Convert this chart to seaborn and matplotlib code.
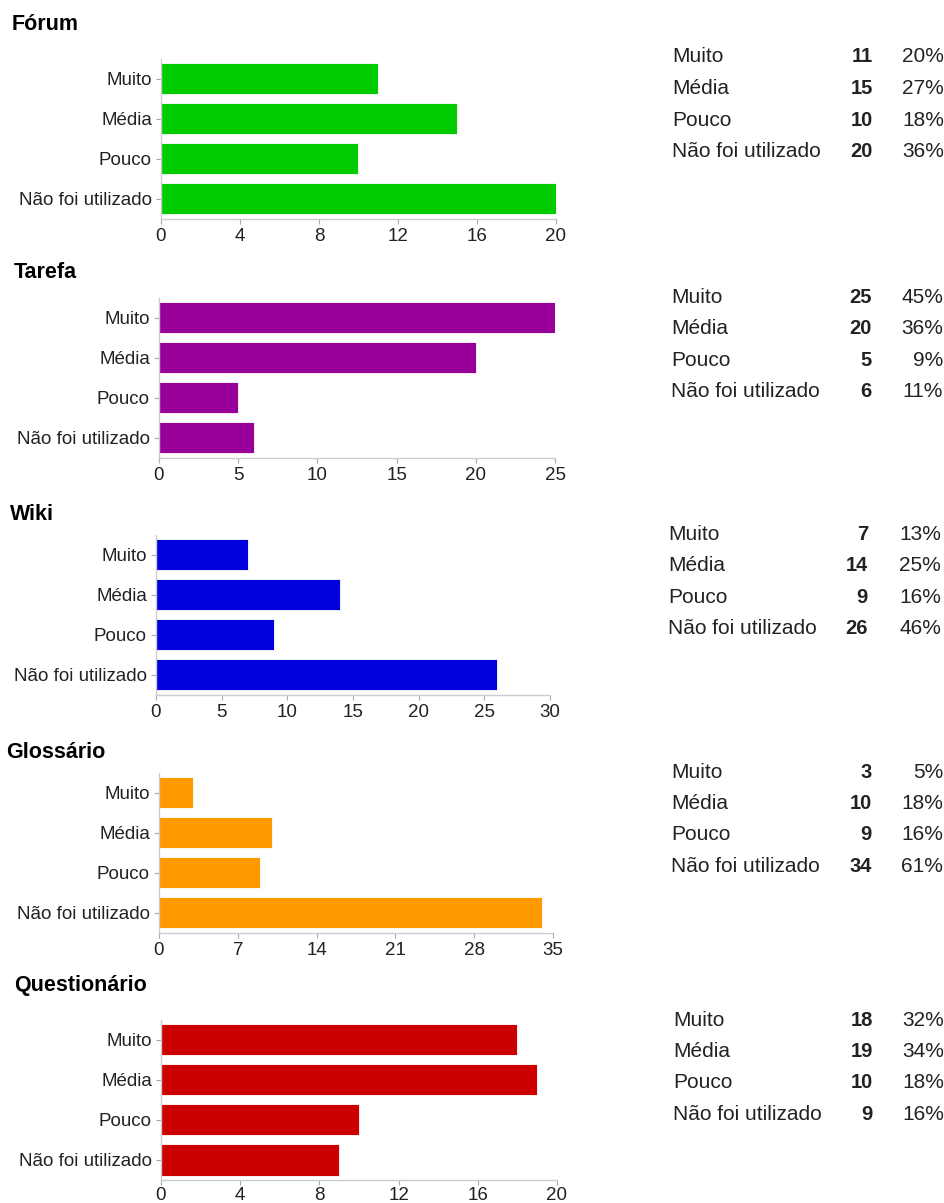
import matplotlib
matplotlib.use("Agg")
import matplotlib.pyplot as plt
import seaborn as sns
import numpy as np

sns.set_theme(style="white")
plt.rcParams['font.family'] = ['Liberation Sans', 'DejaVu Sans']

categories = ["Muito", "Média", "Pouco", "Não foi utilizado"]

titles = ["Fórum", "Tarefa", "Wiki", "Glossário", "Questionário"]
forum = [11, 15, 10, 20]
tarefa = [25, 20, 5, 6]
wiki = [7, 14, 9, 26]
glossario = [3, 10, 9, 34]
questionario = [18, 19, 10, 9]

forum_pct = ["20%", "27%", "18%", "36%"]
tarefa_pct = ["45%", "36%", "9%", "11%"]
wiki_pct = ["13%", "25%", "16%", "46%"]
glossario_pct = ["5%", "18%", "16%", "61%"]
questionario_pct = ["32%", "34%", "18%", "16%"]

x_ticks = [
    [0, 4, 8, 12, 16, 20],
    [0, 5, 10, 15, 20, 25],
    [0, 5, 10, 15, 20, 25, 30],
    [0, 7, 14, 21, 28, 35],
    [0, 4, 8, 12, 16, 20],
]

colors = ["#00cc00", "#990099", "#0000dd", "#ff9900", "#cc0000"]
series = [forum, tarefa, wiki, glossario, questionario]
pcts = [forum_pct, tarefa_pct, wiki_pct, glossario_pct, questionario_pct]

W, H = 945, 1203
fig = plt.figure(figsize=(W / 100, H / 100), dpi=100)

# layout in pixels
axes_px = [  # left, right, top, bottom
    (161, 556, 58.5, 218.5),
    (159, 555, 297.5, 457.5),
    (156, 550, 534.5, 694.5),
    (159, 553, 772.5, 932.5),
    (161, 557, 1019.5, 1180),
]
tick_pad = [3.5, 3.5, 3.5, 3.5, 1.5]
title_px = [(12, 24), (14, 272), (10, 515), (6, 752), (14, 985)]
table_px = [  # label x, value right x, pct right x, first row y
    (672, 873, 944, 57),
    (671, 872, 943, 297),
    (668, 868, 941, 534),
    (671, 872, 943, 772),
    (673, 873, 944, 1020),
]
row_step = 31.5

def fx(px):
    return px / W

def fy(py):
    return 1 - py / H

for i in range(5):
    l, r, t, b = axes_px[i]
    ax = fig.add_axes([fx(l), fy(b), (r - l) / W, (b - t) / H])
    sns.barplot(x=series[i], y=categories, orient="h", color=colors[i],
                saturation=1, width=0.78, ax=ax, edgecolor="white", linewidth=0.6)
    ax.set_xlim(0, x_ticks[i][-1])
    ax.set_ylim(3.5, -0.5)
    ax.set_xticks(x_ticks[i])
    ax.set_xlabel("")
    ax.set_ylabel("")
    for s in ["top", "right"]:
        ax.spines[s].set_visible(False)
    for s in ["left", "bottom"]:
        ax.spines[s].set_color("#cccccc")
        ax.spines[s].set_linewidth(1.0)
    ax.tick_params(axis="both", which="both", length=3.5, width=0.8, color="#aaaaaa",
                   labelsize=13.5, labelcolor="#222222", pad=3, bottom=True, left=True)
    ax.tick_params(axis="x", pad=tick_pad[i])
    ax.set_facecolor("white")

    tx, ty = title_px[i]
    fig.text(fx(tx), fy(ty), titles[i], fontsize=15.5, fontweight="bold",
             color="#000000", ha="left", va="center")

    lx, vx, px_, y0 = table_px[i]
    for j, cat in enumerate(categories):
        yy = fy(y0 + j * row_step)
        fig.text(fx(lx), yy, cat, fontsize=15, color="#222222", ha="left", va="center")
        fig.text(fx(vx), yy, str(series[i][j]), fontsize=14.5, fontweight="bold",
                 color="#222222", ha="right", va="center")
        fig.text(fx(px_), yy, pcts[i][j], fontsize=15, color="#222222",
                 ha="right", va="center")

fig.savefig("out.png", dpi=100, facecolor="white")
